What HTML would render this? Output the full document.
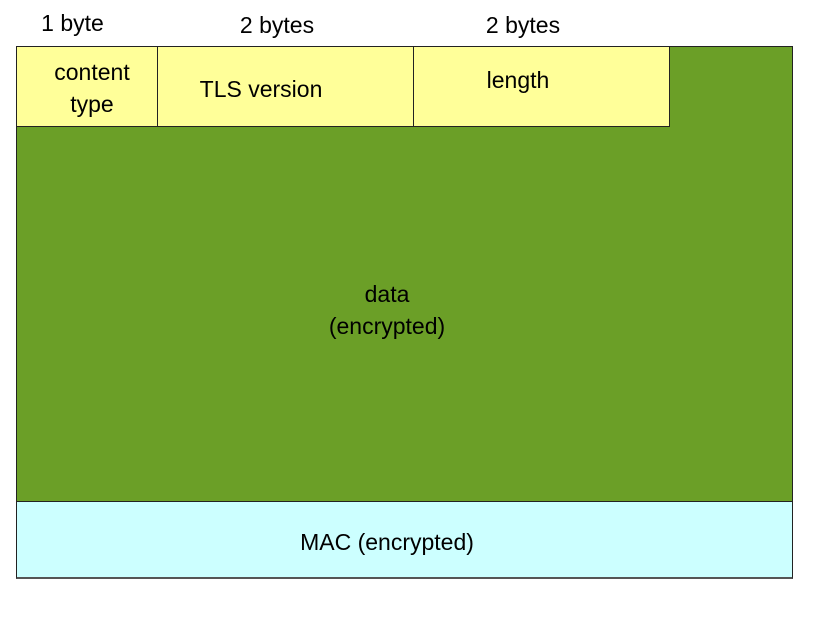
<!DOCTYPE html>
<html><head><style>
body{margin:0;width:816px;height:625px;background:#fff;position:relative;font-family:"Liberation Sans",sans-serif;overflow:hidden}
div{position:absolute;box-sizing:border-box}
.t{font-size:23px;color:#000;text-align:center;line-height:32px}
</style></head><body>
<div class="t" style="left:0px;top:7px;width:145px">1 byte</div>
<div class="t" style="left:157px;top:9px;width:240px">2 bytes</div>
<div class="t" style="left:413px;top:9px;width:220px">2 bytes</div>
<div style="left:16px;top:46px;width:777px;height:456px;background:#6b9f27;border:1px solid #222"></div>
<div style="left:16px;top:46px;width:142px;height:81px;background:#ffff99;border:1px solid #222"></div>
<div style="left:157px;top:46px;width:257px;height:81px;background:#ffff99;border:1px solid #222"></div>
<div style="left:413px;top:46px;width:257px;height:81px;background:#ffff99;border:1px solid #222"></div>
<div class="t" style="left:22px;top:56px;width:140px">content<br>type</div>
<div class="t" style="left:157px;top:73px;width:208px">TLS version</div>
<div class="t" style="left:413px;top:64px;width:210px">length</div>
<div class="t" style="left:16px;top:278px;width:742px">data<br>(encrypted)</div>
<div style="left:16px;top:501px;width:777px;height:78px;background:#ccffff;border:1px solid #222;border-bottom:2px solid #555"></div>
<div class="t" style="left:16px;top:526px;width:742px">MAC (encrypted)</div>
</body></html>
